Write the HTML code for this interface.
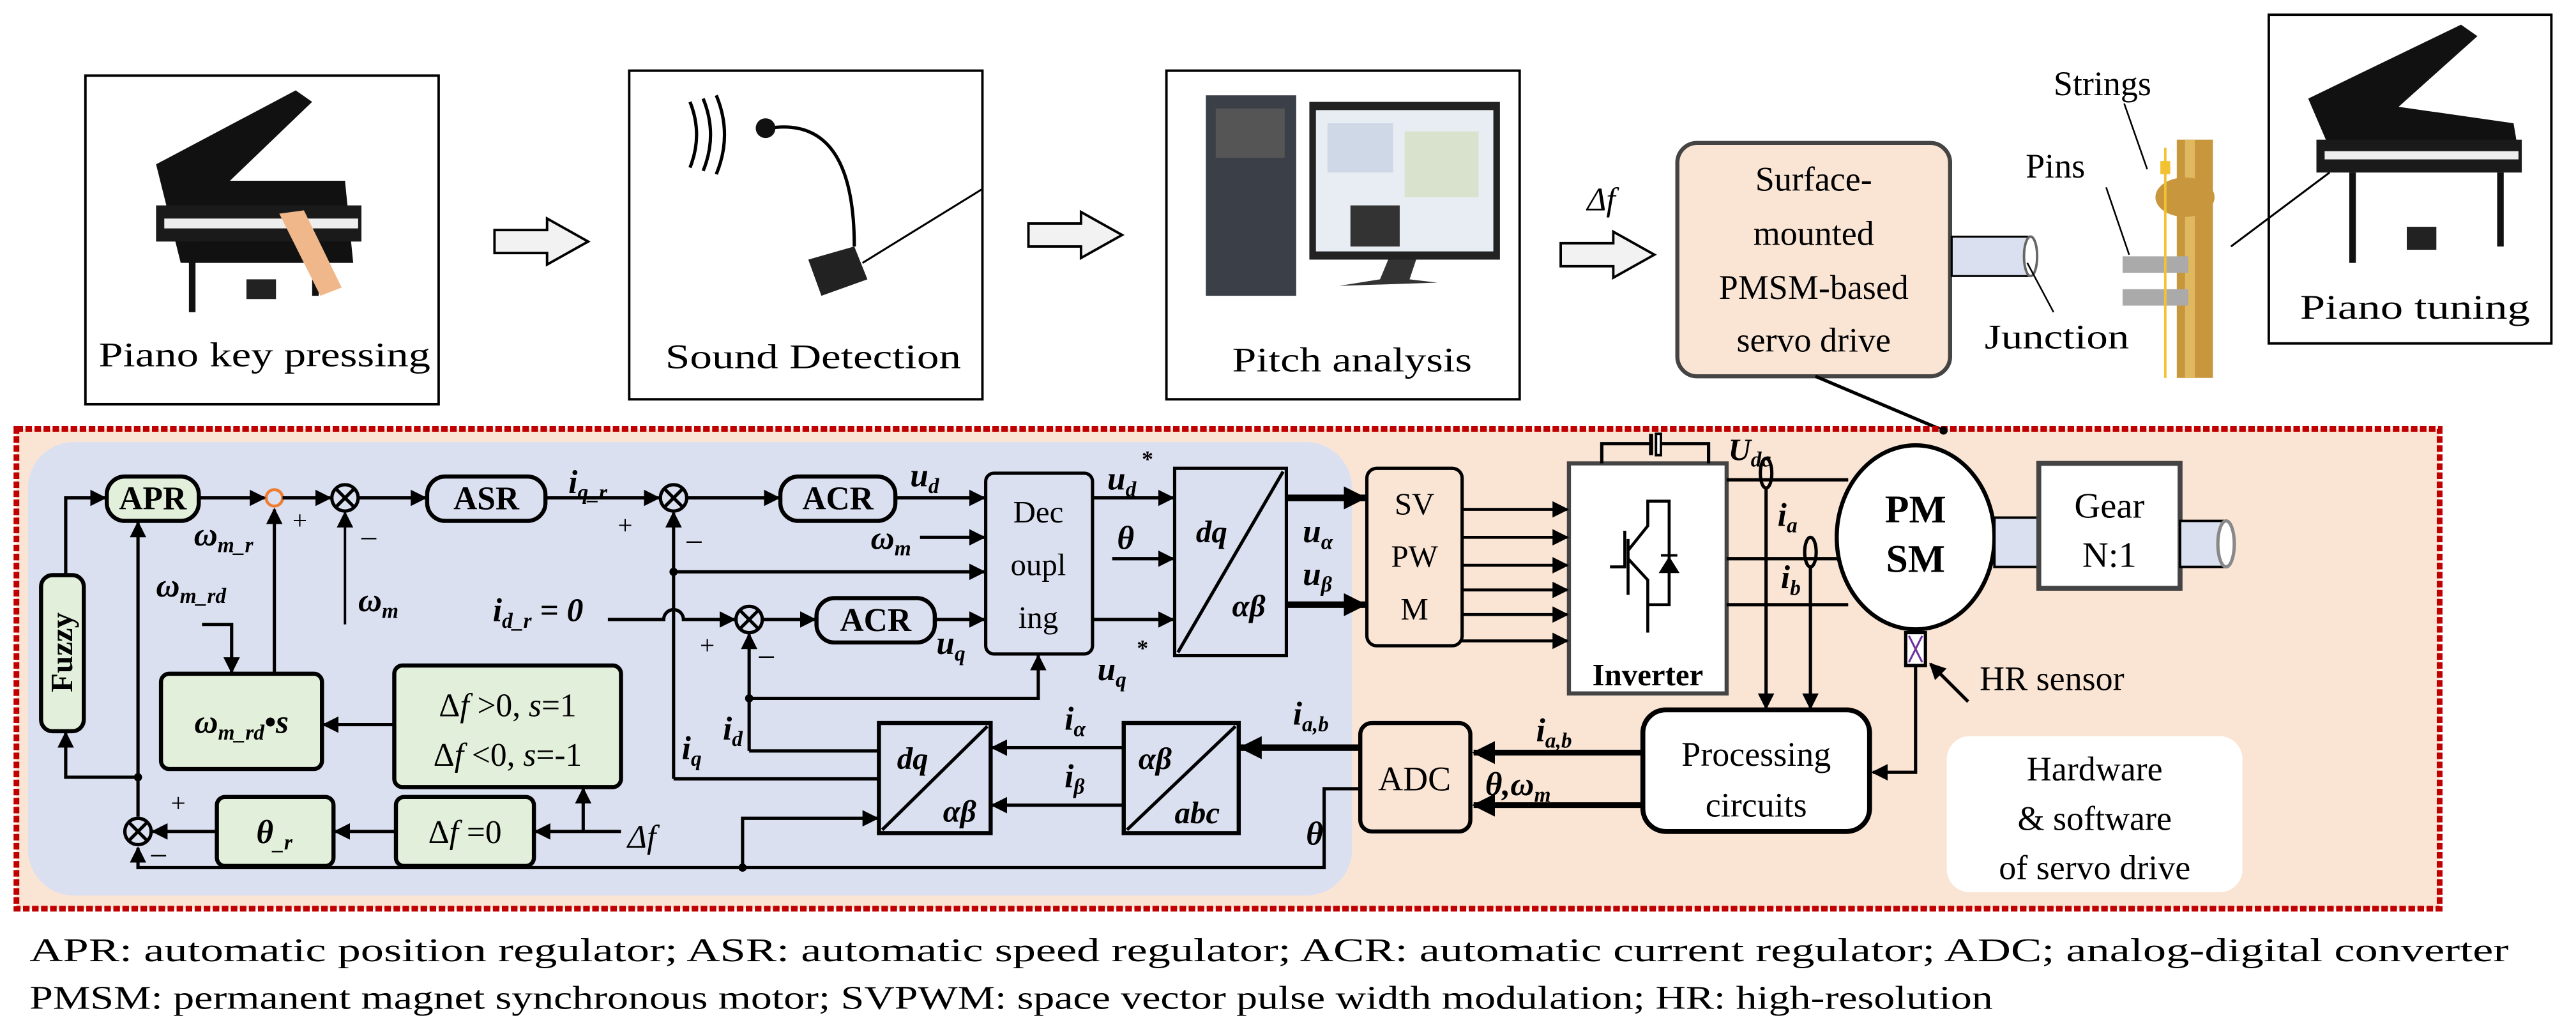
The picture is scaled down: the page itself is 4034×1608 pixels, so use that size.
<!DOCTYPE html>
<html><head><meta charset="utf-8"><style>
html,body{margin:0;padding:0;background:#fff}
svg{display:block}
svg, text{font-family:"Liberation Serif","Times New Roman",Times,serif}
text{fill:#000}
.b{font-weight:bold}
.i{font-style:italic}
</style></head><body>
<svg width="4034" height="1608" viewBox="0 0 1568 625" preserveAspectRatio="none" xmlns="http://www.w3.org/2000/svg" font-family="Liberation Serif, Times New Roman, serif">
<defs>
<marker id="a" markerWidth="10" markerHeight="10" refX="9" refY="5" orient="auto" markerUnits="userSpaceOnUse"><path d="M0,0 L10,5 L0,10 Z" fill="#000"/></marker>
<marker id="A" markerWidth="14" markerHeight="14" refX="13" refY="7" orient="auto" markerUnits="userSpaceOnUse"><path d="M0,0 L14,7 L0,14 Z" fill="#000"/></marker>
</defs>
<rect width="1568" height="625" fill="#fff"/>

<rect x="52" y="46" width="215" height="200" fill="#fff" stroke="#000" stroke-width="1.5"/>
<rect x="383" y="43" width="215" height="200" fill="#fff" stroke="#000" stroke-width="1.5"/>
<rect x="710" y="43" width="215" height="200" fill="#fff" stroke="#000" stroke-width="1.5"/>
<rect x="1381" y="9" width="172" height="200" fill="#fff" stroke="#000" stroke-width="1.5"/>

<g>
<path d="M110,160 L95,100 L180,55 L190,62 L140,110 L210,110 L215,160 Z" fill="#111"/>
<rect x="95" y="125" width="125" height="22" fill="#1a1a1a"/>
<rect x="100" y="133" width="118" height="6" fill="#eee"/>
<rect x="115" y="150" width="4" height="40" fill="#111"/>
<rect x="190" y="150" width="4" height="30" fill="#111"/>
<rect x="150" y="170" width="18" height="12" fill="#222"/>
<path d="M170,130 L185,128 L208,175 L195,180 Z" fill="#f0b88a"/>
</g>
<text x="60" y="223" font-size="21" textLength="202" lengthAdjust="spacingAndGlyphs">Piano key pressing</text>

<g fill="none" stroke="#000" stroke-width="2">
<path d="M420,62 Q428,82 420,102"/><path d="M428,60 Q437,82 428,104"/><path d="M436,58 Q446,82 436,106"/>
<path d="M468,78 Q520,70 520,150" stroke-width="2"/>
<line x1="525" y1="160" x2="598" y2="115" stroke-width="1.2"/>
</g>
<circle cx="466" cy="78" r="6" fill="#111"/>
<path d="M492,158 L520,150 L528,170 L500,180 Z" fill="#222"/>
<text x="405" y="224" font-size="21" textLength="180" lengthAdjust="spacingAndGlyphs">Sound Detection</text>

<rect x="734" y="58" width="55" height="122" fill="#3a3f48"/>
<rect x="740" y="66" width="42" height="30" fill="#555"/>
<rect x="797" y="62" width="116" height="96" fill="#222"/>
<rect x="801" y="67" width="108" height="86" fill="#e8edf3"/>
<rect x="808" y="75" width="40" height="30" fill="#cfd8e6"/>
<rect x="855" y="80" width="45" height="40" fill="#d9e2cc"/>
<rect x="822" y="125" width="30" height="25" fill="#333"/>
<path d="M845,158 L862,158 L858,170 L875,172 L815,174 L840,170 Z" fill="#333"/>
<text x="750" y="226" font-size="21" textLength="146" lengthAdjust="spacingAndGlyphs">Pitch analysis</text>

<g fill="#f2f2f2" stroke="#000" stroke-width="1.5">
<path d="M301,140 L333,140 L333,133 L358,147 L333,161 L333,154 L301,154 Z"/>
<path d="M626,136 L658,136 L658,129 L683,143 L658,157 L658,150 L626,150 Z"/>
<path d="M950,148 L982,148 L982,141 L1007,155 L982,169 L982,162 L950,162 Z"/>
</g>
<text x="966" y="128" font-size="20" class="i">Δf</text>

<rect x="1021" y="87" width="166" height="142" rx="12" fill="#fae5d5" stroke="#444" stroke-width="2.5"/>
<text font-size="21" text-anchor="middle"><tspan x="1104" y="116">Surface-</tspan><tspan x="1104" y="149">mounted</tspan><tspan x="1104" y="182">PMSM-based</tspan><tspan x="1104" y="214">servo drive</tspan></text>
<rect x="1188" y="144" width="48" height="24" fill="#dbe0f1" stroke="#000" stroke-width="1.2"/>
<ellipse cx="1236" cy="156" rx="4" ry="12" fill="#fff" stroke="#666" stroke-width="1.5"/>
<line x1="1234" y1="160" x2="1250" y2="190" stroke="#000" stroke-width="1"/>
<text x="1208" y="212" font-size="21" textLength="88" lengthAdjust="spacingAndGlyphs">Junction</text>

<rect x="1325" y="85" width="22" height="145" fill="#c8963c"/>
<rect x="1330" y="85" width="6" height="145" fill="#e0b860"/>
<ellipse cx="1330" cy="120" rx="18" ry="12" fill="#c8963c"/>
<rect x="1315" y="98" width="6" height="8" fill="#f2c233"/>
<rect x="1292" y="156" width="40" height="10" fill="#aaa"/><rect x="1292" y="176" width="40" height="10" fill="#aaa"/>
<line x1="1318" y1="90" x2="1318" y2="230" stroke="#f2c233" stroke-width="1.5"/>
<text x="1250" y="58" font-size="21">Strings</text>
<line x1="1293" y1="63" x2="1307" y2="103" stroke="#000" stroke-width="1"/>
<text x="1233" y="108" font-size="21">Pins</text>
<line x1="1282" y1="114" x2="1296" y2="155" stroke="#000" stroke-width="1"/>

<path d="M1420,95 L1405,60 L1498,15 L1508,22 L1460,65 L1530,75 L1535,105 Z" fill="#111"/>
<rect x="1410" y="85" width="125" height="20" fill="#1a1a1a"/>
<rect x="1415" y="92" width="118" height="5" fill="#eee"/>
<rect x="1430" y="105" width="4" height="55" fill="#111"/>
<rect x="1520" y="105" width="4" height="45" fill="#111"/>
<rect x="1465" y="138" width="18" height="14" fill="#222"/>
<line x1="1358" y1="150" x2="1418" y2="105" stroke="#000" stroke-width="1.2"/>
<text x="1400" y="194" font-size="21" textLength="140" lengthAdjust="spacingAndGlyphs">Piano tuning</text>

<line x1="1105" y1="229" x2="1183" y2="262" stroke="#000" stroke-width="2"/>

<rect x="10" y="261" width="1475" height="292" fill="#fae5d5" stroke="#c00000" stroke-width="3.5" stroke-dasharray="4,1.5"/>
<circle cx="1183" cy="262" r="2.5" fill="#000"/>
<rect x="17" y="269" width="806" height="276" rx="28" fill="#dbe0f1"/>

<g stroke="#000" stroke-width="2" fill="none">
<rect x="65" y="290" width="56" height="27" rx="11" fill="#e2efda" stroke-width="2.5"/>
<circle cx="167" cy="303" r="5" stroke="#ed7d31" stroke-width="1.8"/>
<circle cx="210" cy="303" r="8"/><path d="M204,297 L216,309 M216,297 L204,309"/>
<rect x="260" y="290" width="72" height="27" rx="11" fill="#dbe0f1" stroke-width="2.5"/>
<circle cx="410" cy="303" r="8"/><path d="M404,297 L416,309 M416,297 L404,309"/>
<rect x="475" y="290" width="70" height="27" rx="11" stroke-width="2.5"/>
<rect x="600" y="288" width="65" height="110" rx="5" stroke-width="2"/>
<rect x="715" y="285" width="68" height="114" stroke-width="2"/><line x1="717" y1="397" x2="781" y2="287"/>
<circle cx="456" cy="377" r="8"/><path d="M450,371 L462,383 M462,371 L450,383"/>
<rect x="497" y="364" width="72" height="27" rx="11" stroke-width="2.5"/>
<line x1="121" y1="303" x2="161" y2="303" marker-end="url(#a)"/>
<line x1="172" y1="303" x2="201" y2="303" marker-end="url(#a)"/>
<line x1="218" y1="303" x2="259" y2="303" marker-end="url(#a)"/>
<line x1="332" y1="303" x2="401" y2="303" marker-end="url(#a)"/>
<line x1="418" y1="303" x2="474" y2="303" marker-end="url(#a)"/>
<line x1="545" y1="303" x2="599" y2="303" marker-end="url(#a)"/>
<line x1="560" y1="327" x2="599" y2="327" marker-end="url(#a)"/>
<line x1="410" y1="348" x2="599" y2="348" marker-end="url(#a)"/>
<line x1="569" y1="377" x2="599" y2="377" marker-end="url(#a)"/>
<line x1="665" y1="303" x2="714" y2="303" marker-end="url(#a)"/>
<line x1="677" y1="340" x2="714" y2="340" marker-end="url(#a)"/>
<line x1="665" y1="377" x2="714" y2="377" marker-end="url(#a)"/>
<line x1="783" y1="303" x2="831" y2="303" stroke-width="4" marker-end="url(#A)"/>
<line x1="783" y1="368" x2="831" y2="368" stroke-width="4" marker-end="url(#A)"/>
<path d="M370,377 L404,377 A6,6 0 0 1 416,377 L447,377" marker-end="url(#a)"/>
<line x1="464" y1="377" x2="496" y2="377" marker-end="url(#a)"/>
<line x1="410" y1="474" x2="410" y2="312" marker-end="url(#a)"/>
<line x1="410" y1="474" x2="534" y2="474"/>
<line x1="456" y1="457" x2="456" y2="386" marker-end="url(#a)"/>
<line x1="456" y1="457" x2="534" y2="457"/>
<path d="M456,425 L632,425 L632,399" marker-end="url(#a)"/>
<line x1="210" y1="380" x2="210" y2="312" stroke-width="1.5" marker-end="url(#a)"/>
<rect x="535" y="440" width="68" height="67" stroke-width="2.5"/><line x1="537" y1="505" x2="601" y2="442"/>
<rect x="684" y="440" width="70" height="67" stroke-width="2.5"/><line x1="686" y1="505" x2="752" y2="442"/>
<line x1="684" y1="455" x2="604" y2="455" marker-end="url(#a)"/>
<line x1="684" y1="490" x2="604" y2="490" marker-end="url(#a)"/>
<line x1="828" y1="455" x2="755" y2="455" stroke-width="4" marker-end="url(#A)"/>
<path d="M828,480 L806,480 L806,528 L84,528 L84,516" marker-end="url(#a)"/>
<path d="M452,528 L452,498 L534,498" marker-end="url(#a)"/>
<rect x="25" y="350" width="26" height="95" rx="7" fill="#e2efda" stroke-width="2.5"/>
<path d="M40,350 L40,303 L64,303" marker-end="url(#a)"/>
<path d="M84,473 L40,473 L40,446" marker-end="url(#a)"/>
<line x1="84" y1="497" x2="84" y2="318" marker-end="url(#a)"/>
<circle cx="84" cy="506" r="8"/><path d="M78,500 L90,512 M90,500 L78,512"/>
<rect x="98" y="410" width="98" height="58" rx="5" fill="#e2efda" stroke-width="2.5"/>
<line x1="167" y1="410" x2="167" y2="310" marker-end="url(#a)"/>
<path d="M123,380 L141,380 L141,409" marker-end="url(#a)"/>
<rect x="240" y="405" width="138" height="74" rx="5" fill="#e2efda" stroke-width="2.5"/>
<line x1="240" y1="441" x2="197" y2="441" marker-end="url(#a)"/>
<rect x="132" y="485" width="71" height="42" rx="5" fill="#e2efda" stroke-width="2.5"/>
<rect x="241" y="485" width="84" height="42" rx="5" fill="#e2efda" stroke-width="2.5"/>
<line x1="132" y1="506" x2="93" y2="506" marker-end="url(#a)"/>
<line x1="241" y1="506" x2="204" y2="506" marker-end="url(#a)"/>
<line x1="378" y1="506" x2="326" y2="506" marker-end="url(#a)"/>
<line x1="355" y1="506" x2="355" y2="480" marker-end="url(#a)"/>
</g>
<g fill="#000"><circle cx="410" cy="348" r="2.5"/><circle cx="456" cy="425" r="2.5"/><circle cx="84" cy="473" r="2.5"/><circle cx="452" cy="528" r="2.5"/></g>

<g font-size="20">
<text x="93" y="310" text-anchor="middle" class="b">APR</text>
<text x="296" y="310" text-anchor="middle" class="b">ASR</text>
<text x="510" y="310" text-anchor="middle" class="b">ACR</text>
<text x="533" y="384" text-anchor="middle" class="b">ACR</text>
<text font-size="19" text-anchor="middle"><tspan x="632" y="318">Dec</tspan><tspan x="632" y="350">oupl</tspan><tspan x="632" y="382">ing</tspan></text>
<text x="728" y="330" class="i b" font-size="19">dq</text><text x="750" y="375" class="i b" font-size="19">αβ</text>
<text x="0" y="0" transform="translate(44 397) rotate(-90)" font-size="19" text-anchor="middle" class="b">Fuzzy</text>
<text x="147" y="446" text-anchor="middle" class="i b">ω<tspan font-size="13" dy="4">m_rd</tspan><tspan dy="-4">•s</tspan></text>
<text x="309" y="436" text-anchor="middle" font-size="20">Δ<tspan class="i">f</tspan> &gt;0, <tspan class="i">s</tspan>=1</text>
<text x="309" y="466" text-anchor="middle" font-size="20">Δ<tspan class="i">f</tspan> &lt;0, <tspan class="i">s</tspan>=-1</text>
<text x="167" y="513" text-anchor="middle" class="i b">θ<tspan font-size="13" dy="4">_r</tspan></text>
<text x="283" y="513" text-anchor="middle">Δ<tspan class="i">f</tspan> =0</text>
<text x="382" y="516" class="i">Δf</text>
<text x="118" y="332" class="i b">ω<tspan font-size="13" dy="4">m_r</tspan></text>
<text x="95" y="363" class="i b">ω<tspan font-size="13" dy="4">m_rd</tspan></text>
<text x="218" y="372" class="i b">ω<tspan font-size="13" dy="4">m</tspan></text>
<text x="178" y="322" font-size="16">+</text><text x="220" y="332" font-size="18">–</text>
<text x="376" y="325" font-size="16">+</text><text x="418" y="334" font-size="18">–</text>
<text x="426" y="398" font-size="16">+</text><text x="462" y="404" font-size="18">–</text>
<text x="104" y="494" font-size="16">+</text><text x="92" y="525" font-size="18">–</text>
<text x="346" y="300" class="i b">i<tspan font-size="13" dy="4">q_r</tspan></text>
<text x="300" y="378" class="i b">i<tspan font-size="13" dy="4">d_r</tspan><tspan dy="-4"> = 0</tspan></text>
<text x="554" y="296" class="i b">u<tspan font-size="13" dy="4">d</tspan></text>
<text x="530" y="334" class="i b">ω<tspan font-size="13" dy="4">m</tspan></text>
<text x="570" y="398" class="i b">u<tspan font-size="13" dy="4">q</tspan></text>
<text x="674" y="298" class="i b">u<tspan font-size="13" dy="4">d</tspan></text><text x="695" y="284" font-size="14" class="b">*</text>
<text x="680" y="334" class="i b">θ</text>
<text x="668" y="414" class="i b">u<tspan font-size="13" dy="4">q</tspan></text><text x="692" y="399" font-size="14" class="b">*</text>
<text x="793" y="330" class="i b">u<tspan font-size="13" dy="4">α</tspan></text>
<text x="793" y="356" class="i b">u<tspan font-size="13" dy="4">β</tspan></text>
<text x="415" y="462" class="i b">i<tspan font-size="13" dy="4">q</tspan></text>
<text x="440" y="450" class="i b">i<tspan font-size="13" dy="4">d</tspan></text>
<text x="648" y="444" class="i b">i<tspan font-size="13" dy="4">α</tspan></text>
<text x="648" y="479" class="i b">i<tspan font-size="13" dy="4">β</tspan></text>
<text x="546" y="468" class="i b" font-size="19">dq</text><text x="574" y="500" class="i b" font-size="19">αβ</text>
<text x="693" y="468" class="i b" font-size="19">αβ</text><text x="715" y="501" class="i b" font-size="19">abc</text>
<text x="787" y="441" class="i b">i<tspan font-size="13" dy="4">a,b</tspan></text>
<text x="795" y="514" class="i b">θ</text>
</g>

<g stroke="#000" stroke-width="2" fill="none">
<rect x="832" y="285" width="58" height="108" rx="6"/>
<rect x="955" y="282" width="96" height="140" fill="#fff" stroke="#444" stroke-width="2.5"/>
<path d="M975,282 L975,270 L1005,270 M1010,270 L1040,270 L1040,282"/>
<line x1="1005" y1="264" x2="1005" y2="277" stroke-width="2.5"/><rect x="1008" y="264" width="3" height="13" fill="#fff" stroke-width="1.5"/>
<g stroke-width="1.8">
<line x1="890" y1="310" x2="954" y2="310" marker-end="url(#a)"/>
<line x1="890" y1="327" x2="954" y2="327" marker-end="url(#a)"/>
<line x1="890" y1="344" x2="954" y2="344" marker-end="url(#a)"/>
<line x1="890" y1="359" x2="954" y2="359" marker-end="url(#a)"/>
<line x1="890" y1="374" x2="954" y2="374" marker-end="url(#a)"/>
<line x1="890" y1="390" x2="954" y2="390" marker-end="url(#a)"/>
</g>
<path d="M989,323 L989,345 L980,345 M991,328 L991,362 M991,335 L1003,320 L1003,305 L1016,305 L1016,368 L1003,368 L1003,353 L991,340 M1003,320 L1003,305 M1003,368 L1003,385" stroke-width="1.8"/>
<path d="M1011,348 L1021,348 L1016,340 Z M1011,338 L1021,338" fill="#000" stroke-width="1.5"/>
<line x1="1051" y1="292" x2="1125" y2="292"/>
<line x1="1051" y1="340" x2="1120" y2="340"/>
<line x1="1051" y1="368" x2="1125" y2="368"/>
<ellipse cx="1166" cy="327" rx="48" ry="56" fill="#fff" stroke-width="2.5"/>
<rect x="1214" y="315" width="27" height="30" fill="#dbe0f1" stroke-width="1.5"/>
<rect x="1241" y="282" width="86" height="76" fill="#fff" stroke="#444" stroke-width="3"/>
<rect x="1327" y="317" width="28" height="28" fill="#dbe0f1" stroke-width="1.5"/>
<ellipse cx="1355" cy="331" rx="5" ry="14" fill="#fff" stroke="#888" stroke-width="2"/>
<rect x="1160" y="385" width="12" height="20" fill="#fff" stroke-width="2"/>
<path d="M1162,387 L1170,403 M1170,387 L1162,403" stroke="#7030a0" stroke-width="1.2"/>
<line x1="1198" y1="427" x2="1175" y2="404" marker-end="url(#a)"/>
<path d="M1166,405 L1166,470 L1140,470" marker-end="url(#a)"/>
<ellipse cx="1075" cy="288" rx="3.5" ry="9"/>
<ellipse cx="1102" cy="336" rx="3.5" ry="9"/>
<line x1="1075" y1="297" x2="1075" y2="431" marker-end="url(#a)"/>
<line x1="1102" y1="345" x2="1102" y2="431" marker-end="url(#a)"/>
<rect x="1000" y="432" width="138" height="74" rx="14" fill="#fff" stroke-width="3"/>
<rect x="828" y="440" width="67" height="66" rx="7" stroke-width="2.5"/>
<line x1="1000" y1="458" x2="897" y2="458" stroke-width="3.5" marker-end="url(#A)"/>
<line x1="1000" y1="490" x2="897" y2="490" stroke-width="3.5" marker-end="url(#A)"/>
</g>
<rect x="1185" y="448" width="180" height="95" rx="14" fill="#fff"/>
<g font-size="20">
<text text-anchor="middle" font-size="19"><tspan x="861" y="313">SV</tspan><tspan x="861" y="345">PW</tspan><tspan x="861" y="377">M</tspan></text>
<text x="1003" y="417" text-anchor="middle" class="b" font-size="19">Inverter</text>
<text x="1052" y="280" class="i b" font-size="19">U<tspan font-size="13" dy="4">dc</tspan></text>
<text x="1082" y="320" class="i b">i<tspan font-size="13" dy="4">a</tspan></text>
<text x="1084" y="358" class="i b">i<tspan font-size="13" dy="4">b</tspan></text>
<text x="1166" y="318" text-anchor="middle" class="b" font-size="24">PM</text>
<text x="1166" y="348" text-anchor="middle" class="b" font-size="24">SM</text>
<text x="1284" y="315" text-anchor="middle" font-size="22">Gear</text>
<text x="1284" y="345" text-anchor="middle" font-size="22">N:1</text>
<text x="1205" y="420" font-size="21">HR sensor</text>
<text x="1069" y="466" text-anchor="middle" font-size="21">Processing</text>
<text x="1069" y="497" text-anchor="middle" font-size="21">circuits</text>
<text x="861" y="481" text-anchor="middle" font-size="21">ADC</text>
<text x="935" y="451" class="i b">i<tspan font-size="13" dy="4">a,b</tspan></text>
<text x="904" y="484" class="i b">θ,ω<tspan font-size="13" dy="4">m</tspan></text>
<text text-anchor="middle" font-size="21"><tspan x="1275" y="475">Hardware</tspan><tspan x="1275" y="505">&amp; software</tspan><tspan x="1275" y="535">of servo drive</tspan></text>
</g>

<text x="18" y="585" font-size="20" textLength="1509" lengthAdjust="spacingAndGlyphs">APR: automatic position regulator; ASR: automatic speed regulator; ACR: automatic current regulator; ADC; analog-digital converter</text>
<text x="18" y="614" font-size="20" textLength="1195" lengthAdjust="spacingAndGlyphs">PMSM: permanent magnet synchronous motor; SVPWM: space vector pulse width modulation; HR: high-resolution</text>
</svg>
</body></html>
